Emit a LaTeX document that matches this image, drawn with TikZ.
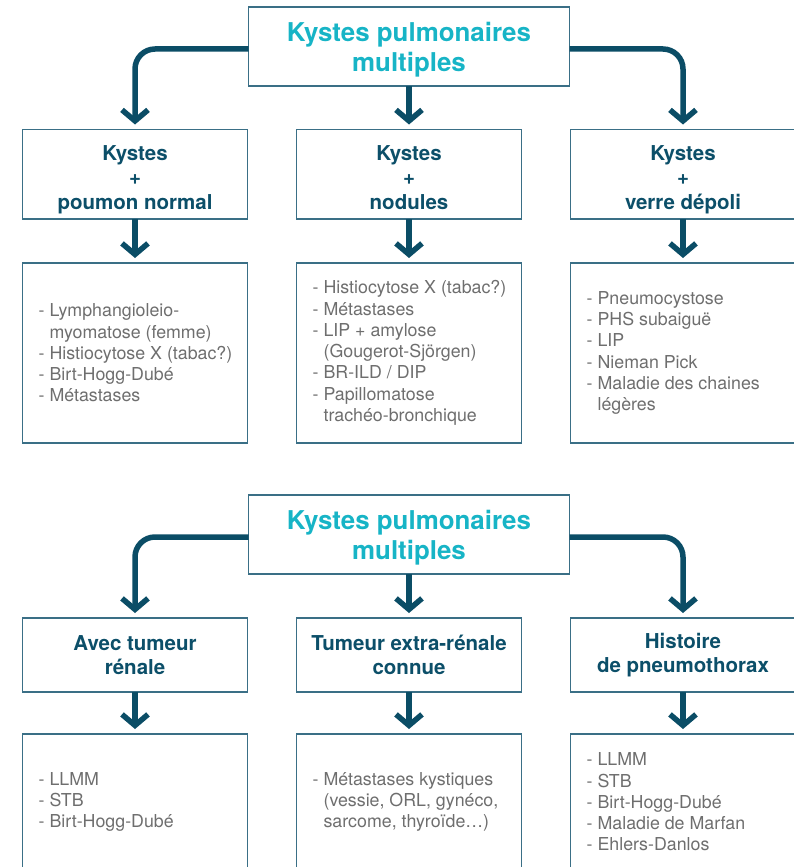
\documentclass[tikz,border=0pt]{standalone}
\usepackage{fontspec}
\setmainfont{TeX Gyre Heros}
\usetikzlibrary{positioning,arrows.meta}
\definecolor{arrowblue}{HTML}{0B4D66}
\definecolor{frameblue}{HTML}{3A6F86}
\definecolor{catblue}{HTML}{0C4F69}
\definecolor{titlecyan}{HTML}{17B4C6}
\definecolor{listgray}{HTML}{6E6E6E}
\newcommand{\ind}{\hphantom{- }}

\begin{document}
\begin{tikzpicture}[x=1pt, y=-1pt,
  box/.style={draw=frameblue, line width=1.3pt, inner sep=0pt, outer sep=0pt},
  head/.style={box, minimum width=321pt, minimum height=79pt, align=center,
    text height=55pt, text=titlecyan, font=\fontsize{25.9}{30}\selectfont\bfseries},
  cat/.style={box, minimum width=225pt, minimum height=89.5pt, align=center,
    text height=74pt, text=catblue, font=\fontsize{20.5}{24.5}\selectfont\bfseries},
  cat2/.style={cat, minimum height=74pt, text height={}},
  lst/.style={box, minimum width=225pt, minimum height=180pt},
  lsttxt/.style={align=left, text=listgray, inner sep=0pt,
    font=\fontsize{17.8}{21.3}\selectfont},
  flow/.style={draw=arrowblue, line width=5.5pt, rounded corners=20pt,
    -{Straight Barb[length=11pt, width=26pt]}, shorten >=5pt}]
  \useasboundingbox (0,0) rectangle (794,867);

  % first tree
  \node[head] (title) at (409,46.5) {Kystes pulmonaires\\multiples};
  \node[cat, below=43.5pt of title] (c2) {Kystes\\+\\nodules\vphantom{p}};
  \node[cat, left=49pt of c2] (c1) {Kystes\\+\\poumon normal};
  \node[cat, right=49pt of c2] (c3) {Kystes\\+\\verre dépoli};
  \node[lst, below=44pt of c1] (l1) {};
  \node[lst, below=44pt of c2] (l2) {};
  \node[lst, below=44pt of c3] (l3) {};
  \node[lsttxt, anchor=west] (t1) at ([xshift=16pt]l1.west)
    {- Lymphangioleio-\\\ind myomatose (femme)\\- Histiocytose X (tabac?)\\- Birt-Hogg-Dubé\\- Métastases};
  \node[lsttxt, anchor=west] (t2) at ([xshift=16pt]l2.west)
    {- Histiocytose X (tabac?)\\- Métastases\\- LIP + amylose\\\ind(Gougerot-Sjörgen)\\- BR-ILD / DIP\\- Papillomatose\\\ind trachéo-bronchique};
  \node[lsttxt, anchor=west] (t3) at ([xshift=16pt]l3.west)
    {- Pneumocystose\\- PHS subaiguë\\- LIP\\- Nieman Pick\\- Maladie des chaines\\\ind légères};
  \draw[flow] ([yshift=-2.5pt]title.west) -| (c1);
  \draw[flow] (title) -- (c2);
  \draw[flow] ([yshift=-2.5pt]title.east) -| (c3);
  \draw[flow] (c1) -- (l1);
  \draw[flow] (c2) -- (l2);
  \draw[flow] (c3) -- (l3);

  % second tree
  \node[head, below=52pt of l2] (title2) {Kystes pulmonaires\\multiples};
  \node[cat2, below=44pt of title2] (d2) {Tumeur extra-rénale\\connue};
  \node[cat2, left=49pt of d2] (d1) {Avec tumeur\\rénale};
  \node[cat2, right=49pt of d2] (d3) {Histoire\\de pneumothorax};
  \node[lst, minimum height=136pt, below=42pt of d1] (m1) {};
  \node[lst, minimum height=136pt, below=42pt of d2] (m2) {};
  \node[lst, minimum height=136pt, below=42pt of d3] (m3) {};
  \node[lsttxt, anchor=west] (u1) at ([xshift=16pt]m1.west)
    {- LLMM\\- STB\\- Birt-Hogg-Dubé};
  \node[lsttxt, anchor=west] (u2) at ([xshift=16pt]m2.west)
    {- Métastases kystiques\\\ind(vessie, ORL, gynéco,\\\ind sarcome, thyroïde…)};
  \node[lsttxt, anchor=west] (u3) at ([xshift=16pt]m3.west)
    {- LLMM\\- STB\\- Birt-Hogg-Dubé\\- Maladie de Marfan\\- Ehlers-Danlos};
  \draw[flow] ([yshift=-2.5pt]title2.west) -| (d1);
  \draw[flow] (title2) -- (d2);
  \draw[flow] ([yshift=-2.5pt]title2.east) -| (d3);
  \draw[flow] (d1) -- (m1);
  \draw[flow] (d2) -- (m2);
  \draw[flow] (d3) -- (m3);
\end{tikzpicture}
\end{document}
